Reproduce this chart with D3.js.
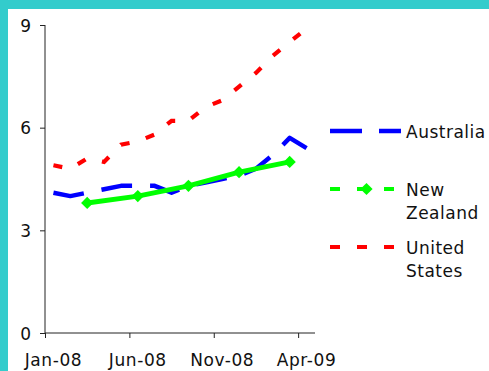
<!DOCTYPE html>
<html>
<head>
<meta charset="utf-8">
<script src="https://cdn.jsdelivr.net/npm/d3@7"></script>
<style>
  html, body { margin: 0; padding: 0; background: #33cccc; }
  svg { display: block; }
  text { font-family: "DejaVu Sans", Verdana, sans-serif; fill: #111; }
</style>
</head>
<body>
<svg id="chart" width="489" height="371"></svg>
<script>
// Monthly unemployment rate, per cent
const months = ["Jan-08","Feb-08","Mar-08","Apr-08","May-08","Jun-08","Jul-08","Aug-08",
                "Sep-08","Oct-08","Nov-08","Dec-08","Jan-09","Feb-09","Mar-09","Apr-09"];
const australia = [4.1, 4.0, 4.1, 4.2, 4.3, 4.3, 4.3, 4.1, 4.3, 4.4, 4.5, 4.6, 4.8, 5.2, 5.7, 5.4];
const unitedStates = [4.9, 4.8, 5.1, 5.0, 5.5, 5.6, 5.8, 6.2, 6.2, 6.6, 6.8, 7.2, 7.6, 8.1, 8.5, 8.9];
// New Zealand is reported quarterly
const nzQuarters = ["Mar-08", "Jun-08", "Sep-08", "Dec-08", "Mar-09"];
const newZealand = [3.8, 4.0, 4.3, 4.7, 5.0];

const xTickLabels = ["Jan-08", "Jun-08", "Nov-08", "Apr-09"];
const yTicks = [0, 3, 6, 9];

const svg = d3.select("#chart");
const W = 489, H = 371;

// white chart area inside the teal frame
svg.append("rect").attr("x", 8).attr("y", 9).attr("width", W - 8).attr("height", H - 9).attr("fill", "#fff");

// month index scale: each month occupies one slot, points sit mid-slot
const x = d3.scaleLinear().domain([0, 16]).range([45, 315]);
const y = d3.scaleLinear().domain([0, 9]).range([333, 25]);

const axisColor = "#222";

// y axis
const yAxis = svg.append("g").attr("transform", "translate(45,0)")
  .call(d3.axisLeft(y).tickValues(yTicks).tickSize(5).tickPadding(9).tickFormat(d3.format("d")));
yAxis.select(".domain").attr("stroke", axisColor).attr("d", `M0,${y(9)}V${y(0)}`);
yAxis.selectAll(".tick line").attr("stroke", axisColor);
yAxis.selectAll(".tick text").attr("font-size", 17).attr("dy", "0.36em")
  .attr("font-family", "DejaVu Sans, Verdana, sans-serif").attr("fill", "#111");

// x axis: ticks on month boundaries, labels on the month centres
const tickIdx = xTickLabels.map(l => months.indexOf(l));
const xAxis = svg.append("g").attr("transform", `translate(0,${y(0)})`)
  .call(d3.axisBottom(x).tickValues(tickIdx).tickSize(5).tickFormat(""));
xAxis.select(".domain").attr("stroke", axisColor).attr("d", `M${x(0)},0H${x(16)}`);
xAxis.selectAll(".tick line").attr("stroke", axisColor);
svg.append("g").selectAll("text").data(xTickLabels).join("text")
  .attr("x", d => x(months.indexOf(d) + 0.5))
  .attr("y", 366)
  .attr("text-anchor", "middle")
  .attr("font-size", 17)
  .attr("letter-spacing", 0.6)
  .text(d => d);

const line = d3.line().x(d => x(d.i + 0.5)).y(d => y(d.v));

const auData = australia.map((v, i) => ({ i, v }));
const usData = unitedStates.map((v, i) => ({ i, v }));
const nzData = newZealand.map((v, k) => ({ i: months.indexOf(nzQuarters[k]), v }));

const diamond = d3.symbol().type(d3.symbolDiamond2).size(95);

svg.append("path").datum(auData).attr("d", line)
  .attr("fill", "none").attr("stroke", "#0000ff").attr("stroke-width", 4.5)
  .attr("stroke-dasharray", "31,18").attr("stroke-linejoin", "round");

svg.append("path").datum(nzData).attr("d", line)
  .attr("fill", "none").attr("stroke", "#00ff00").attr("stroke-width", 5)
  .attr("stroke-linejoin", "round");
svg.append("g").selectAll("path").data(nzData).join("path")
  .attr("transform", d => `translate(${x(d.i + 0.5)},${y(d.v)})`)
  .attr("d", diamond).attr("fill", "#00ff00");

svg.append("path").datum(usData).attr("d", line)
  .attr("fill", "none").attr("stroke", "#ff0000").attr("stroke-width", 4.2)
  .attr("stroke-dasharray", "9,17");

// legend
const legend = [
  { name: ["Australia"], color: "#0000ff", dash: "32,17", width: 4.5, y: 131, marker: false },
  { name: ["New", "Zealand"], color: "#00ff00", dash: "10,17", width: 4.2, y: 189, marker: true },
  { name: ["United", "States"], color: "#ff0000", dash: "10,17", width: 4.2, y: 247, marker: false }
];
const lg = svg.append("g");
legend.forEach(s => {
  lg.append("line").attr("x1", 330).attr("x2", 401).attr("y1", s.y).attr("y2", s.y)
    .attr("stroke", s.color).attr("stroke-width", s.width).attr("stroke-dasharray", s.dash);
  if (s.marker) {
    lg.append("path").attr("transform", `translate(366.5,${s.y})`).attr("d", diamond).attr("fill", s.color);
  }
  const t = lg.append("text").attr("x", 406).attr("y", s.y + 7).attr("font-size", 17).attr("letter-spacing", 0.5);
  s.name.forEach((n, k) => t.append("tspan").attr("x", 406).attr("dy", k === 0 ? 0 : 23).text(n));
});
</script>
</body>
</html>
